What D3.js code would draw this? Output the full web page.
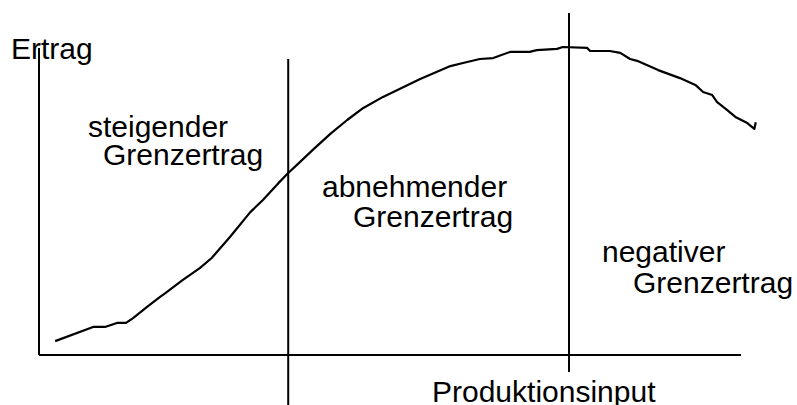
<!DOCTYPE html>
<html>
<head>
  <meta charset="utf-8">
  <title>Ertragsgesetz</title>
  <script src="https://cdn.jsdelivr.net/npm/d3@7/dist/d3.min.js"></script>
  <style>
    body { margin:0; background:white; }
    svg text { font-family:"Liberation Sans", Arial, sans-serif; font-size:30px; fill:#000; }
  </style>
</head>
<body>
<div id="chart"></div>
<script>
// input (x) and output (y), 0..100 units
var inputVals = [2.3, 7.7, 9.4, 11.1, 12.4, 13.4, 15.4, 17.2, 18.0, 20.5, 22.9, 24.6, 27.2, 30.1, 31.9,
  34.1, 35.5, 37.2, 39.0, 41.5, 43.9, 46.2, 49.0, 54.3, 58.6, 60.4, 62.8, 64.7, 67.1, 69.9, 70.9,
  73.8, 74.6, 78.1, 78.5, 81.3, 82.8, 84.2, 85.2, 88.2, 91.3, 93.5, 94.6, 95.9, 96.6, 98.0, 99.2,
  100.9, 101.9, 102.1];
var outputVals = [4.5, 9.1, 9.1, 10.4, 10.4, 12.0, 15.6, 18.8, 20.1, 24.4, 28.2, 31.5, 38.3, 46.4, 50.3,
  55.8, 59.1, 62.7, 66.6, 71.8, 76.3, 80.2, 83.8, 89.6, 93.8, 94.8, 96.1, 96.4, 98.4, 98.4, 99.0,
  99.4, 100.0, 99.7, 98.7, 98.7, 98.1, 96.1, 95.5, 92.5, 89.9, 87.7, 85.4, 84.4, 82.1, 79.6, 77.3,
  75.3, 73.4, 75.6];
// boundaries between the three phases
var phaseBounds = [35.5, 75.5];
var boundTop = [96.1, 111];
var boundBottom = [-16.2, -5.5];
var phaseLabels = [
  ["steigender", "Grenzertrag"],
  ["abnehmender", "Grenzertrag"],
  ["negativer", "Grenzertrag"]
];
var yLabel = "Ertrag";
var xLabel = "Produktionsinput";

var W = 797, H = 405;
var svg = d3.select('#chart').append('svg')
  .attr('width', W).attr('height', H);

var x = d3.scaleLinear().domain([0, 100]).range([39, 741]);
var y = d3.scaleLinear().domain([0, 100]).range([355, 47]);

// axis titles (y axis line is drawn over "Ertrag", like in the original)
svg.append('text').attr('x', 11).attr('y', 59).text(yLabel);
svg.append('text').attr('x', 432).attr('y', 402).text(xLabel);

// phase labels
var labelPos = [[88, 137, 103, 165], [322, 197, 353, 227], [602, 262, 633, 293]];
phaseLabels.forEach(function(l, i) {
  var p = labelPos[i];
  svg.append('text').attr('x', p[0]).attr('y', p[1]).text(l[0]);
  svg.append('text').attr('x', p[2]).attr('y', p[3]).text(l[1]);
});

// axes
svg.append('line')
  .attr('x1', x(0)).attr('x2', x(0)).attr('y1', y(0)).attr('y2', y(99.7))
  .attr('stroke', '#000').attr('stroke-width', 2);
svg.append('line')
  .attr('x1', x(0)).attr('x2', x(100)).attr('y1', y(0)).attr('y2', y(0))
  .attr('stroke', '#000').attr('stroke-width', 2);

// phase boundaries
phaseBounds.forEach(function(b, i) {
  svg.append('line')
    .attr('x1', x(b)).attr('x2', x(b))
    .attr('y1', y(boundTop[i])).attr('y2', y(boundBottom[i]))
    .attr('stroke', '#000').attr('stroke-width', 2);
});

// production curve
var pts = inputVals.map(function(v, i) { return [v, outputVals[i]]; });
var line = d3.line()
  .x(function(d) { return x(d[0]); })
  .y(function(d) { return y(d[1]); });
svg.append('path')
  .datum(pts)
  .attr('d', line)
  .attr('fill', 'none')
  .attr('stroke', '#000')
  .attr('stroke-width', 2.2)
  .attr('stroke-linejoin', 'round');
</script>
</body>
</html>
